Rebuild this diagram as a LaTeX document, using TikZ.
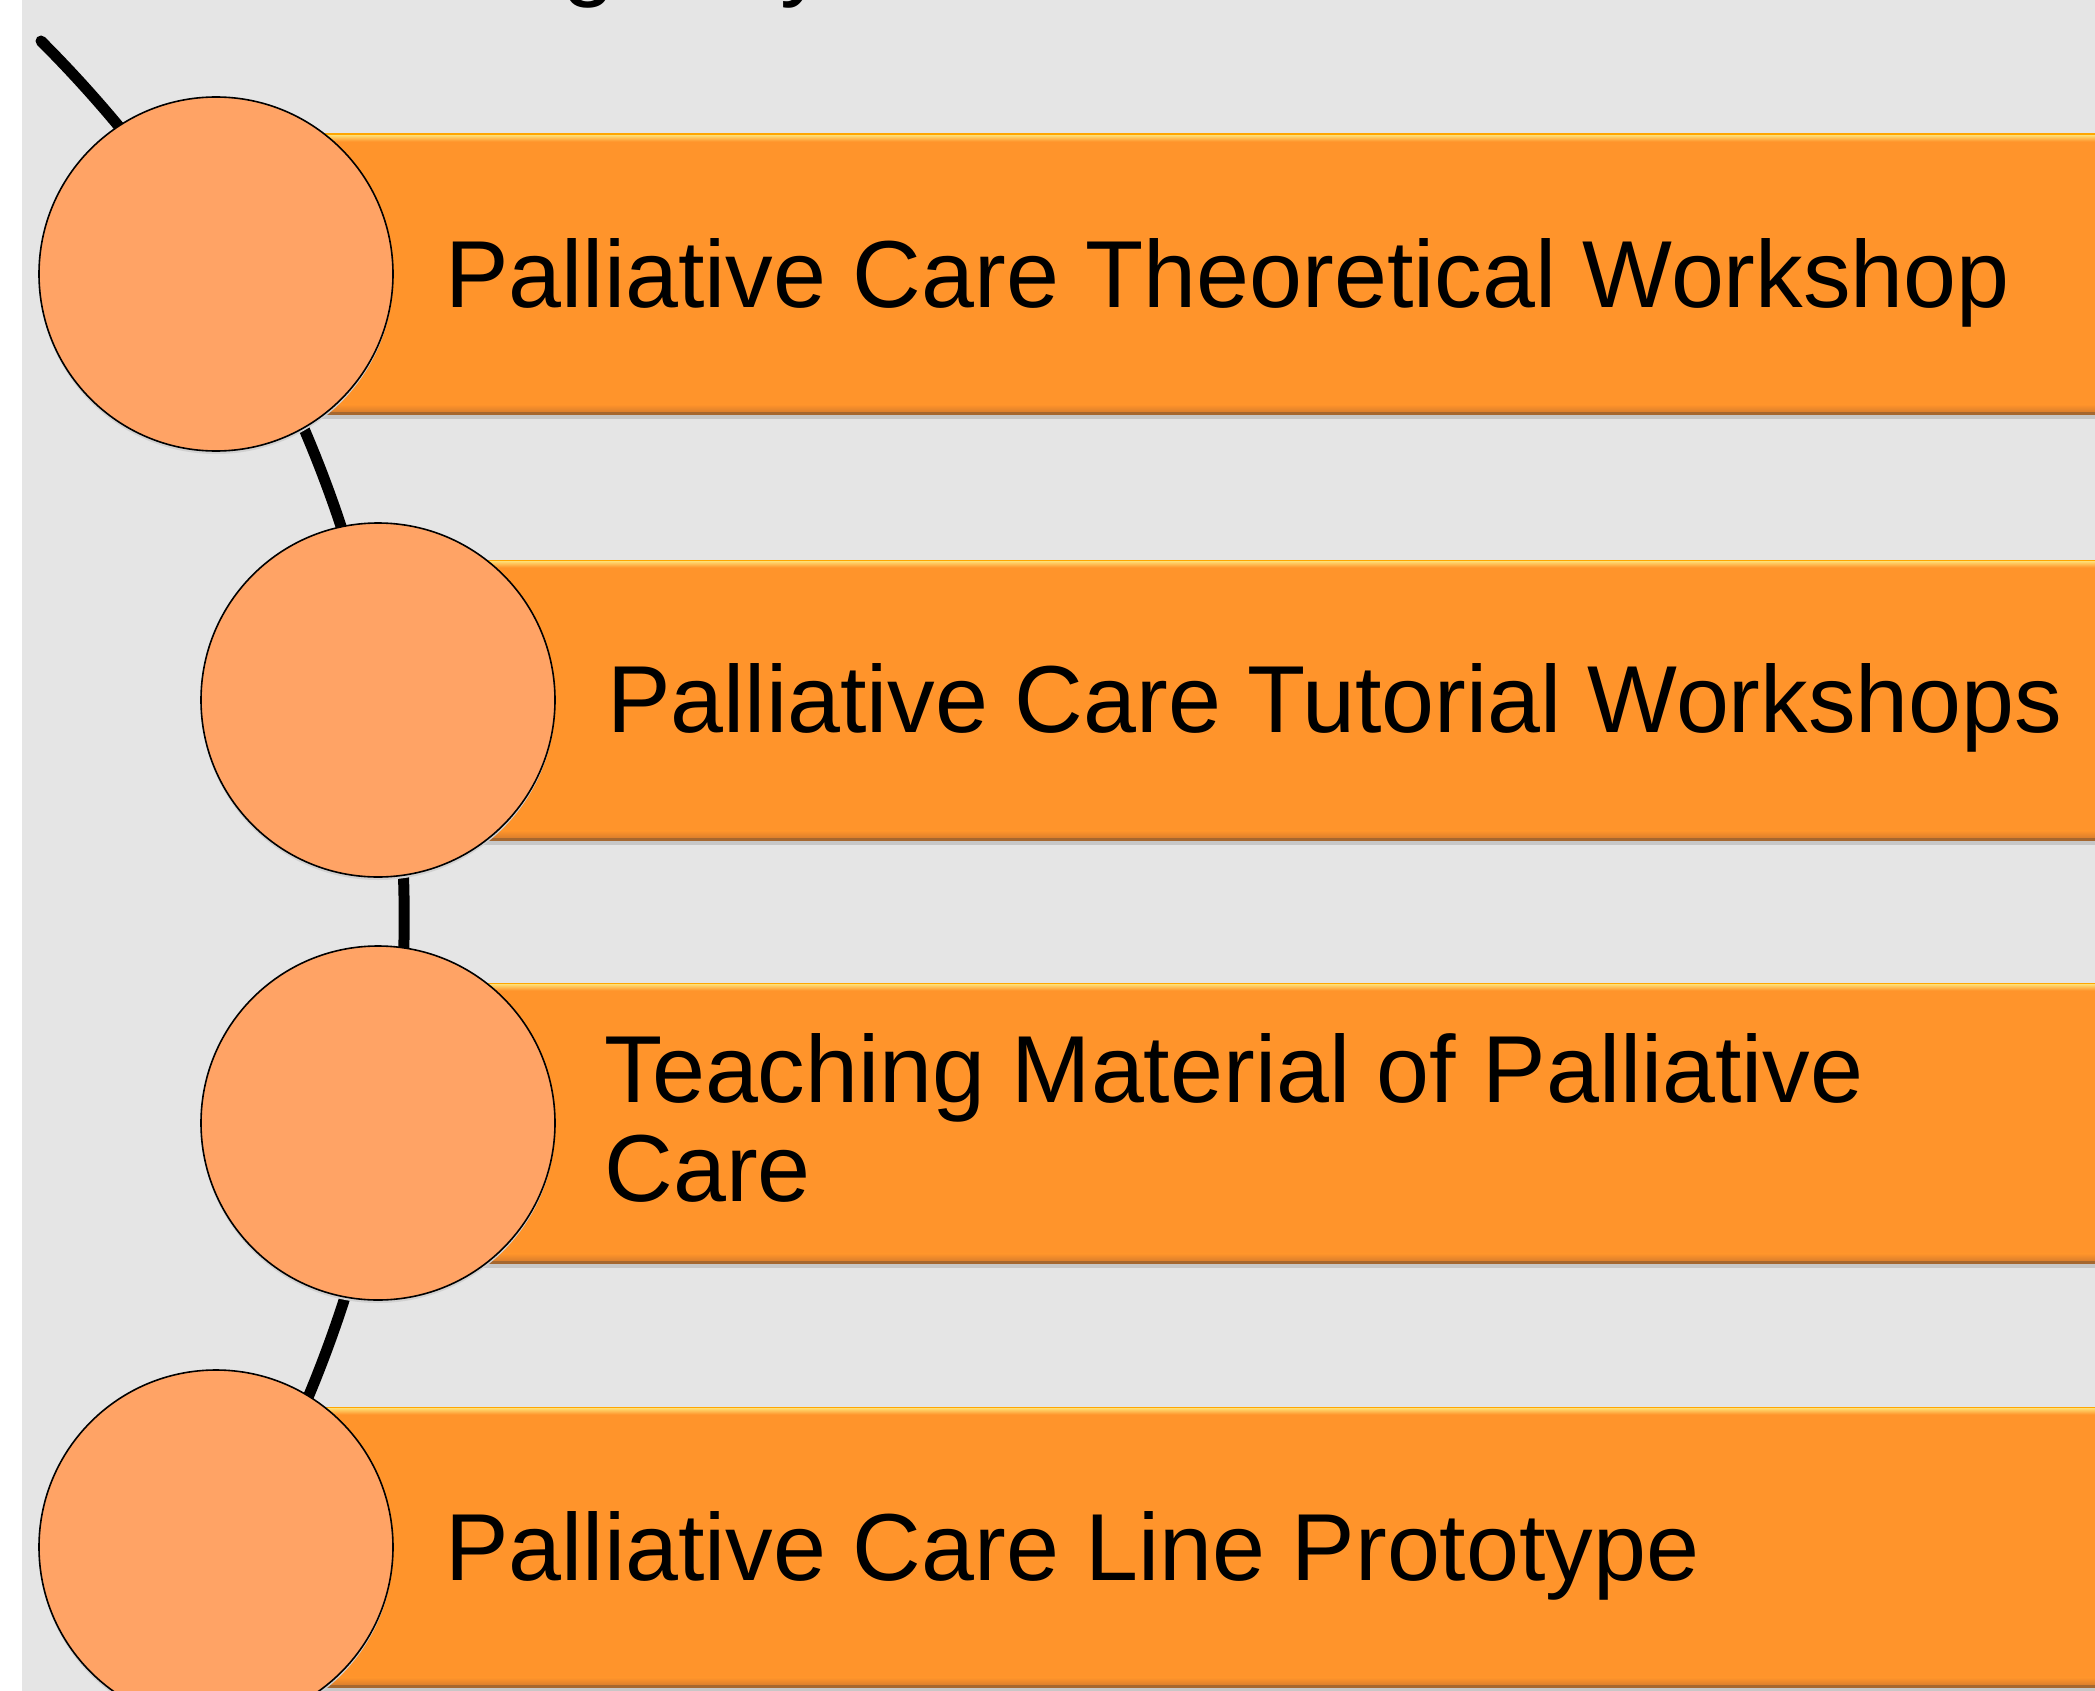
\documentclass[tikz,border=0pt]{standalone}
\usepackage{fontspec}
\setmainfont{Liberation Sans}
\usetikzlibrary{positioning}
\definecolor{fundo}{HTML}{E5E5E5}
\definecolor{laranja}{HTML}{FF942B}
\definecolor{claro}{HTML}{FFA365}
\definecolor{brilho}{HTML}{FFDE74}
\definecolor{escuro}{HTML}{D77C2C}
\definecolor{borda}{HTML}{A5672F}

\begin{document}
\begin{tikzpicture}[x=0.5pt, y=-0.5pt,
        bar/.style={rectangle, fill=laranja, inner sep=0pt, anchor=west,
                    minimum width=960pt, minimum height=140.5pt,
                    preaction={fill=black!22, transform canvas={yshift=-2pt}},
                    path picture={
                      \fill[orange!70!yellow] (path picture bounding box.north west) rectangle
                        ([yshift=-0.8pt]path picture bounding box.north east);
                      \shade[top color=brilho, bottom color=laranja]
                        ([yshift=-0.8pt]path picture bounding box.north west) rectangle
                        ([yshift=-4pt]path picture bounding box.north east);
                      \shade[top color=laranja, bottom color=escuro]
                        ([yshift=5pt]path picture bounding box.south west) rectangle
                        ([yshift=1pt]path picture bounding box.south east);
                      \fill[borda] ([yshift=1.2pt]path picture bounding box.south west) rectangle
                        (path picture bounding box.south east);}},
        disc/.style={circle, fill=claro, draw=black, line width=0.8pt, minimum size=177pt, inner sep=0pt,
                     preaction={fill=black!18, transform canvas={yshift=-1.5pt}}},
        txt/.style={font=\fontsize{47.6}{49.5}\selectfont, anchor=base west, inner sep=0pt, align=left},
        arcline/.style={line width=5.5pt, line cap=round, color=black}
    ]
    \useasboundingbox (0,0) rectangle (2095,1691);
    \clip (0,0) rectangle (2095,1691);
    \fill[fundo] (22,0) rectangle (2095,1691);
    % restos do titulo, cortado no topo
    \node[txt] (gtail) at (562,-11) {g};
    \node[txt] (ytail) at (780,-11) {y};
    % arco que liga os circulos
    \coordinate (arctop) at (41,41);
    \draw[arcline] (arctop) arc[start angle=45, end angle=-45, radius=620pt];
    % faixas
    \node[bar] (b1) at (216,274) {};
    \node[bar] (b2) at (378,700) {};
    \node[bar] (b3) at (378,1123) {};
    \node[bar] (b4) at (216,1547) {};
    % circulos por cima das faixas
    \node[disc] (c1) at (b1.west) {};
    \node[disc] (c2) at (b2.west) {};
    \node[disc] (c3) at (b3.west) {};
    \node[disc] (c4) at (b4.west) {};
    % textos
    \node[txt] (t1) at (445,307) {Palliative Care Theoretical Workshop};
    \node[txt] (t2) at (607,732) {Palliative Care Tutorial Workshops};
    \node[txt, anchor=west] (t3) at (604,1118) {Teaching Material of Palliative\\Care};
    \node[txt] (t4) at (445,1580) {Palliative Care Line Prototype};
\end{tikzpicture}
\end{document}
